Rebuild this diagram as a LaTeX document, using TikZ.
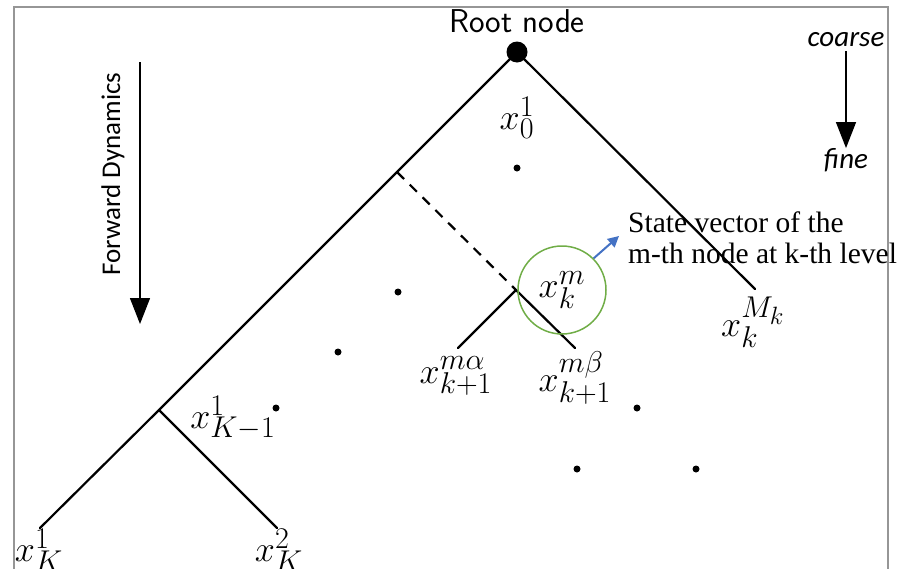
\documentclass[tikz,border=0pt]{standalone}
\usepackage{fontspec}
\usetikzlibrary{arrows.meta}
\newfontfamily\carlitofont{Carlito}
\newfontfamily\notefont{Liberation Serif}
\definecolor{frameGray}{RGB}{150,150,150}
\definecolor{noteBlue}{RGB}{68,114,196}
\definecolor{ringGreen}{RGB}{112,173,71}
\newcommand{\bigmath}[1]{\scalebox{1.45}{$#1$}}
\begin{document}
\begin{tikzpicture}[x=1pt,y=-1pt,
  branch/.style={line width=2.2pt,line cap=round},
  dashbranch/.style={line width=2.2pt,dash pattern=on 10pt off 8pt},
  lbl/.style={inner sep=0pt,font=\fontsize{24.88}{28}\selectfont},
  dotmark/.style={circle,fill=black,inner sep=0pt,minimum size=7pt},
  bigarrow/.style={line width=1.4pt,-{Triangle[width=20pt,length=26pt]}},
  sidetext/.style={inner sep=0pt,font=\carlitofont\fontsize{27}{30}\selectfont}]
\useasboundingbox (0,0) rectangle (912,568);
\draw[frameGray,line width=1.5pt] (14,575) -- (14,7) -- (888,7) -- (888,575);
% tree points
\node[circle,fill=black,inner sep=0pt,minimum size=21pt] (root) at (517,52) {};
\coordinate (lj) at (397,172);
\coordinate (lk) at (159,410);
\coordinate (lK1) at (40,528);
\coordinate (lK2) at (277,528);
\coordinate (rM) at (755,289);
\coordinate (m) at (516,290);
\coordinate (ma) at (458,348);
\coordinate (mb) at (575,348);
% branches
\draw[branch] (root.center) -- (lj) -- (lk) -- (lK1);
\draw[branch] (lk) -- (lK2);
\draw[branch] (root.center) -- (rM);
\draw[dashbranch] (lj) -- (m);
\draw[branch] (m) -- (ma);
\draw[branch] (m) -- (mb);
% labels
\node[inner sep=0pt,font=\sffamily\fontsize{33}{36}\selectfont] (rootlbl) at (517,21) {Root node};
\node[lbl] (x01) at (517,118) {\bigmath{x_0^1}};
\node[lbl] (xKm1) at (233,418) {\bigmath{x_{K-1}^1}};
\node[lbl] (xK1) at (39,550) {\bigmath{x_K^1}};
\node[lbl] (xK2) at (279,550) {\bigmath{x_K^2}};
\node[lbl] (xkm) at (562,290) {\bigmath{x_k^m}};
\node[lbl] (xka) at (456,376) {\bigmath{x_{k+1}^{m\alpha}}};
\node[lbl] (xkb) at (575,378) {\bigmath{x_{k+1}^{m\beta}}};
\node[lbl] (xkM) at (753,322) {\bigmath{x_k^{M_k}}};
% dots
\foreach \n/\p in {d1/{(517,168)},d2/{(398,292)},d3/{(338,352)},d4/{(276,408)},d5/{(637,408)},d6/{(577,469)},d7/{(696,469)}}
  \node[dotmark] (\n) at \p {};
% highlight
\node[draw=ringGreen,line width=1.5pt,circle,minimum size=88pt,inner sep=0pt] (ring) at (562,290) {};
\coordinate (tip) at (619,236);
\draw[noteBlue,line width=2pt,-{Triangle[width=11pt,length=11pt]}] (ring.45) -- (tip);
\node[anchor=west,align=left,inner sep=0pt,font=\notefont\fontsize{29.5}{31}\selectfont] (note) at (628,238) {State vector of the\\m-th node at k-th level};
% direction arrows
\node[sidetext,font=\carlitofont\itshape\fontsize{29}{32}\selectfont] (coarse) at (846,40) {coarse};
\node[sidetext,font=\carlitofont\itshape\fontsize{29}{32}\selectfont] (fine) at (846,160) {fine};
\draw[bigarrow] (coarse.south) ++(0,4) coordinate (cs) (cs) -- (fine.north);
\node[sidetext,rotate=90] (fwd) at (113,174) {Forward Dynamics};
\coordinate (ftop) at (140,62);
\coordinate (fbot) at (140,324);
\draw[bigarrow] (ftop) -- (fbot);
\end{tikzpicture}
\end{document}
